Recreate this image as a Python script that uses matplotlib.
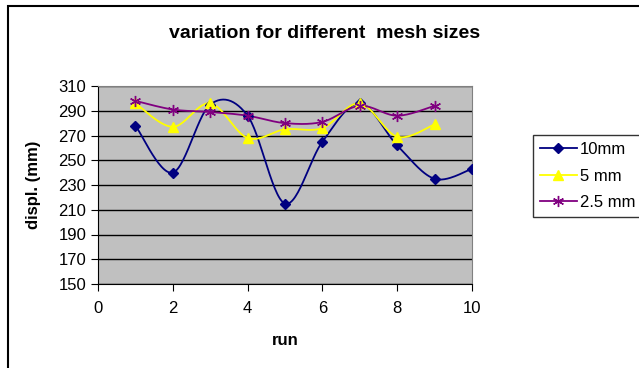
import numpy as np
import matplotlib
matplotlib.use('Agg')
import matplotlib.pyplot as plt
from matplotlib.patches import Rectangle

plt.rcParams['font.family'] = ['Liberation Sans', 'DejaVu Sans']

# данные
runs_10 = [1, 2, 3, 4, 5, 6, 7, 8, 9, 10]
mm10 = [278, 240, 295, 286, 215, 265, 296, 262, 235, 243]
runs_5 = [1, 2, 3, 4, 5, 6, 7, 8, 9]
mm5 = [296, 277, 296, 268, 275, 276, 296, 269, 279]
runs_25 = [1, 2, 3, 4, 5, 6, 7, 8, 9]
mm25 = [298, 291, 289, 286, 280, 281, 294, 286, 294]
labels = ['10mm', '5 mm', '2.5 mm']


def smooth(xs, ys, n=30):
    # сглаживание как в Excel (Catmull-Rom через кривые Безье)
    x = np.asarray(xs, float)
    y = np.asarray(ys, float)
    px, py = [], []
    for i in range(len(x) - 1):
        x0, y0 = (x[i - 1], y[i - 1]) if i > 0 else (x[i], y[i])
        x3, y3 = (x[i + 2], y[i + 2]) if i + 2 < len(x) else (x[i + 1], y[i + 1])
        c1x = x[i] + (x[i + 1] - x0) / 6
        c1y = y[i] + (y[i + 1] - y0) / 6
        c2x = x[i + 1] - (x3 - x[i]) / 6
        c2y = y[i + 1] - (y3 - y[i]) / 6
        t = np.linspace(0, 1, n)
        px.extend((1 - t) ** 3 * x[i] + 3 * (1 - t) ** 2 * t * c1x + 3 * (1 - t) * t ** 2 * c2x + t ** 3 * x[i + 1])
        py.extend((1 - t) ** 3 * y[i] + 3 * (1 - t) ** 2 * t * c1y + 3 * (1 - t) * t ** 2 * c2y + t ** 3 * y[i + 1])
    return px, py


fig = plt.figure(figsize=(6.39, 3.68), dpi=100)
ax = fig.add_axes([98 / 639, 1 - 284 / 368, 374 / 639, 198 / 368])
ax.set_facecolor('#C0C0C0')

series = [
    (runs_10, mm10, '#000080', 'D', 5.5),
    (runs_5, mm5, '#FFFF00', '^', 7.5),
    (runs_25, mm25, '#800080', (6, 2, 0), 8),
]
handles = []
for (xs, ys, c, m, ms), lab in zip(series, labels):
    sx, sy = smooth(xs, ys)
    ax.plot(sx, sy, color=c, lw=1.3, zorder=3)
    ax.plot(xs, ys, ls='none', marker=m, ms=ms, color=c, mec=c, zorder=4)
    h, = ax.plot([], [], color=c, lw=1.3, marker=m, ms=ms, mec=c)
    handles.append(h)

ax.set_xlim(0, 10)
ax.set_ylim(150, 310)
ax.set_xticks(range(0, 11, 2))
ax.set_yticks(range(150, 311, 20))
ax.yaxis.grid(True, color='black', lw=1)
ax.set_axisbelow(True)
for s in ['top', 'right']:
    ax.spines[s].set_color('#808080')
for s in ['left', 'bottom']:
    ax.spines[s].set_color('black')
ax.tick_params(labelsize=12, length=5, direction='out', color='black')
ax.tick_params(axis='x', pad=7)

fig.text(325 / 639, 1 - 33 / 368, 'variation for different  mesh sizes', fontsize=14,
         fontweight='bold', ha='center', va='center')
ax.set_xlabel('run', fontsize=12, fontweight='bold')
ax.xaxis.set_label_coords(0.5, -0.245)
ax.set_ylabel('displ. (mm)', fontsize=12, fontweight='bold')
ax.yaxis.set_label_coords(-0.152, 0.5)

fig.legend(handles, labels, loc='upper left', bbox_to_anchor=(533 / 639, 1 - 135 / 368),
           borderaxespad=0, frameon=True, fancybox=False, edgecolor='black', fontsize=12,
           handlelength=2.2, borderpad=0.42, labelspacing=0.7, handletextpad=0.2)

fig.patches.append(Rectangle((7.5 / 639, -0.1), 1.2, 1 - 5.5 / 368 + 0.1, transform=fig.transFigure,
                             fill=False, edgecolor='black', lw=1.5))

fig.savefig('out.png', dpi=100)
